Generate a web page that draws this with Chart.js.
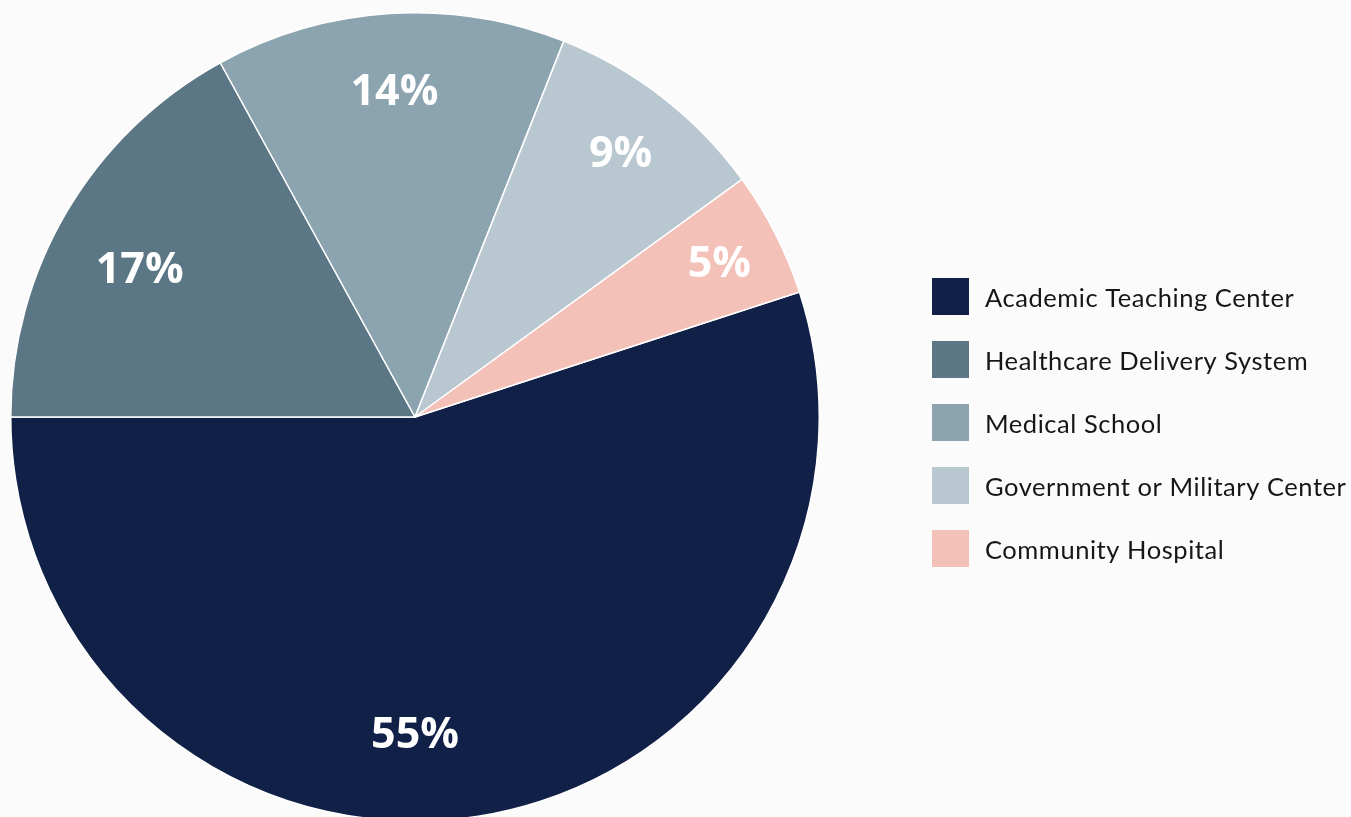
<!DOCTYPE html>
<html>
<head>
<meta charset="utf-8">
<script src="https://cdn.jsdelivr.net/npm/chart.js@4.4.1/dist/chart.umd.min.js"></script>
<style>
  html, body { margin: 0; padding: 0; background: #fbfbfb; overflow: hidden; }
  #wrap { width: 1351px; height: 822px; }
</style>
</head>
<body>
<div id="wrap"><canvas id="pie"></canvas></div>
<script>
// data (percent of respondents)
const categories = [
  "Academic Teaching Center",
  "Healthcare Delivery System",
  "Medical School",
  "Government or Military Center",
  "Community Hospital"
];
const shares = [55, 17, 14, 9, 5];
const sliceColors = ["#112046", "#5b7685", "#8ca3b0", "#b9c7d0", "#f3c1b8"];

// white percentage labels inside the slices
const sliceLabels = {
  id: "sliceLabels",
  afterDatasetsDraw(chart, args, opts) {
    const ctx = chart.ctx;
    const meta = chart.getDatasetMeta(0);
    ctx.save();
    ctx.fillStyle = "#ffffff";
    ctx.font = "700 43px 'Open Sans'";
    ctx.textAlign = "center";
    ctx.textBaseline = "middle";
    meta.data.forEach((arc, i) => {
      let mid = (arc.startAngle + arc.endAngle) / 2;
      if (opts.angle[i] !== null) mid = opts.angle[i] * Math.PI / 180;
      const r = arc.outerRadius * opts.radius[i];
      const x = arc.x + Math.cos(mid) * r;
      const y = arc.y + Math.sin(mid) * r + 3;
      ctx.fillText(shares[i] + "%", x, y);
    });
    ctx.restore();
  }
};

// legend to the right of the pie
const sideLegend = {
  id: "sideLegend",
  afterDraw(chart, args, opts) {
    const ctx = chart.ctx;
    ctx.save();
    ctx.font = "400 25.5px Lato";
    ctx.letterSpacing = "0.55px";
    ctx.textBaseline = "middle";
    ctx.textAlign = "left";
    categories.forEach((name, i) => {
      const y = opts.top + i * opts.step;
      ctx.fillStyle = sliceColors[i];
      ctx.fillRect(opts.left, y, opts.box, opts.box);
      ctx.fillStyle = "#161616";
      ctx.fillText(name, opts.left + opts.box + 16, y + opts.box / 2 + 2);
    });
    ctx.restore();
  }
};

new Chart(document.getElementById("pie"), {
  type: "pie",
  data: {
    labels: categories,
    datasets: [{
      data: shares,
      backgroundColor: sliceColors,
      borderColor: "#ffffff",
      borderWidth: 1.5
    }]
  },
  options: {
    responsive: true,
    maintainAspectRatio: false,
    animation: false,
    rotation: 72,
    layout: { padding: { left: 10, top: 12, right: 531, bottom: 0 } },
    plugins: {
      legend: { display: false },
      tooltip: { enabled: false },
      sliceLabels: {
        angle: [90, 208.5, null, null, null],
        radius: [0.78, 0.775, 0.81, 0.83, 0.845]
      },
      sideLegend: { left: 932, top: 278, step: 63, box: 37 }
    }
  },
  plugins: [sliceLabels, sideLegend]
});
</script>
</body>
</html>
